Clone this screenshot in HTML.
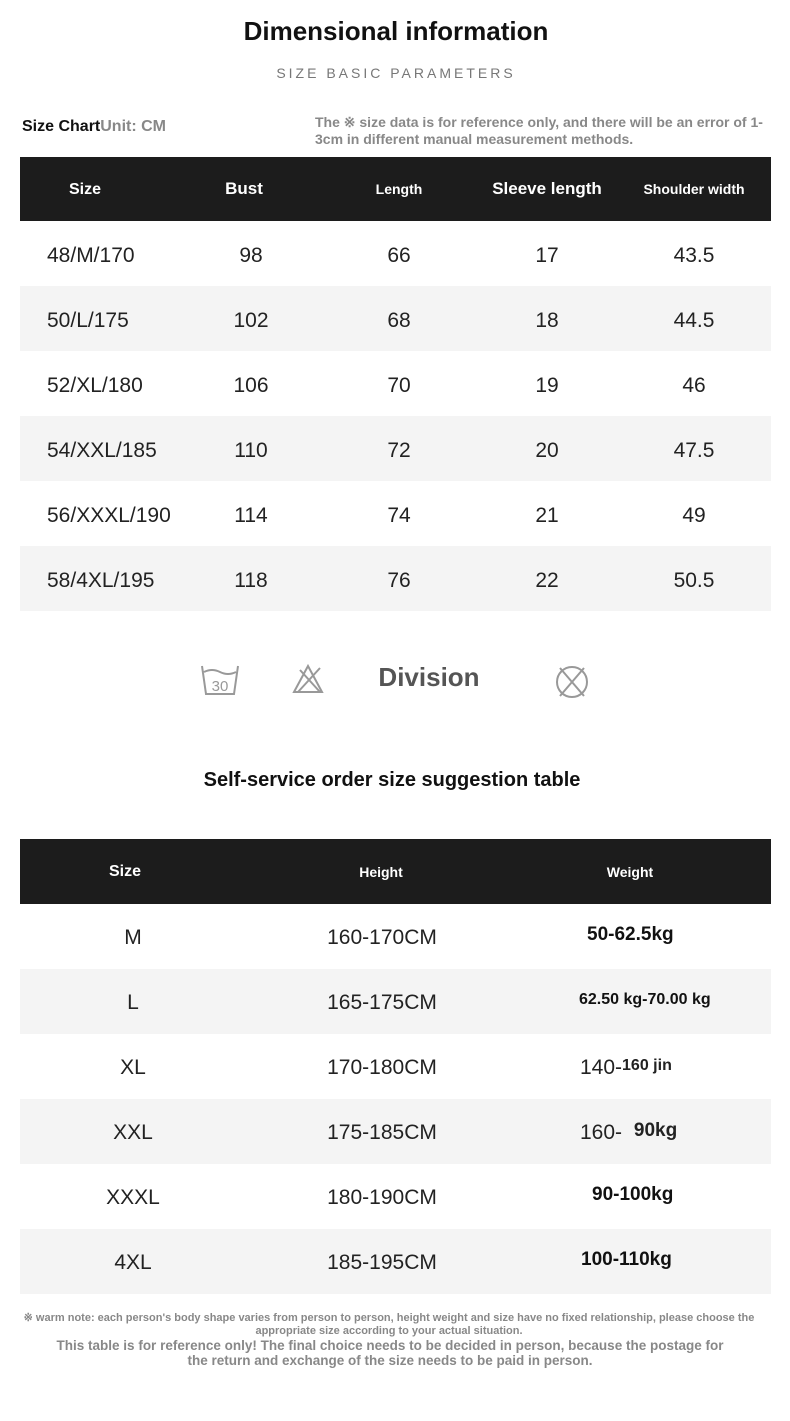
<!DOCTYPE html>
<html><head><meta charset="utf-8"><style>
body{margin:0;width:790px;height:1421px;background:#fff;position:relative;font-family:"Liberation Sans",sans-serif;overflow:hidden}
.a{position:absolute;white-space:nowrap}
.c{transform:translateX(-50%)}
.hd{position:absolute;left:20px;width:751px;background:#1c1c1c}
.g{position:absolute;left:20px;width:751px;height:65px;background:#f4f4f4}
.w{color:#fff;font-weight:bold}
.t{font-size:21px;color:#222}
.b{font-weight:bold;color:#111}
</style></head><body>
<div class="a c b" style="left:396px;top:16px;font-size:26px">Dimensional information</div>
<div class="a c" style="left:396px;top:65px;font-size:14px;letter-spacing:3px;color:#777">SIZE BASIC PARAMETERS</div>
<div class="a b" style="left:22px;top:118px;font-size:16px">Size Chart<span style="color:#888">Unit: CM</span></div>
<div class="a" style="left:315px;top:114px;font-size:14px;font-weight:bold;color:#888;line-height:17px">The ※ size data is for reference only, and there will be an error of 1-<br>3cm in different manual measurement methods.</div>

<div class="hd" style="top:157px;height:64px"></div>
<div class="a c w" style="left:85px;top:181px;font-size:16px">Size</div>
<div class="a c w" style="left:244px;top:179px;font-size:17px">Bust</div>
<div class="a c w" style="left:399px;top:181px;font-size:14px">Length</div>
<div class="a c w" style="left:547px;top:179px;font-size:17px">Sleeve length</div>
<div class="a c w" style="left:694px;top:181px;font-size:14px">Shoulder width</div>

<div class="g" style="top:286px"></div><div class="g" style="top:416px"></div><div class="g" style="top:546px"></div>

<div class="a t" style="left:47px;top:244px">48/M/170</div><div class="a c t" style="left:251px;top:244px">98</div><div class="a c t" style="left:399px;top:244px">66</div><div class="a c t" style="left:547px;top:244px">17</div><div class="a c t" style="left:694px;top:244px">43.5</div>
<div class="a t" style="left:47px;top:309px">50/L/175</div><div class="a c t" style="left:251px;top:309px">102</div><div class="a c t" style="left:399px;top:309px">68</div><div class="a c t" style="left:547px;top:309px">18</div><div class="a c t" style="left:694px;top:309px">44.5</div>
<div class="a t" style="left:47px;top:374px">52/XL/180</div><div class="a c t" style="left:251px;top:374px">106</div><div class="a c t" style="left:399px;top:374px">70</div><div class="a c t" style="left:547px;top:374px">19</div><div class="a c t" style="left:694px;top:374px">46</div>
<div class="a t" style="left:47px;top:439px">54/XXL/185</div><div class="a c t" style="left:251px;top:439px">110</div><div class="a c t" style="left:399px;top:439px">72</div><div class="a c t" style="left:547px;top:439px">20</div><div class="a c t" style="left:694px;top:439px">47.5</div>
<div class="a t" style="left:47px;top:504px">56/XXXL/190</div><div class="a c t" style="left:251px;top:504px">114</div><div class="a c t" style="left:399px;top:504px">74</div><div class="a c t" style="left:547px;top:504px">21</div><div class="a c t" style="left:694px;top:504px">49</div>
<div class="a t" style="left:47px;top:569px">58/4XL/195</div><div class="a c t" style="left:251px;top:569px">118</div><div class="a c t" style="left:399px;top:569px">76</div><div class="a c t" style="left:547px;top:569px">22</div><div class="a c t" style="left:694px;top:569px">50.5</div>

<svg class="a" style="left:198px;top:660px" width="400" height="45" fill="none" stroke="#999" stroke-width="2">
<path d="M4 6 L8 34 L36 34 L40 6 M6 12 Q14 8 22 12 Q30 16 38 12"/>
<text x="22" y="31" text-anchor="middle" font-size="15" fill="#999" stroke="none" font-family="Liberation Sans">30</text>
<path d="M96 32 L110 6 L124 32 Z M100 32 L122 8 M102 10 L122 32"/>
<circle cx="374" cy="22" r="15"/><path d="M362 8 L386 36 M386 8 L362 36"/>
</svg>
<div class="a c" style="left:429px;top:662px;font-size:26px;font-weight:bold;color:#555">Division</div>

<div class="a c b" style="left:392px;top:769px;font-size:20px">Self-service order size suggestion table</div>

<div class="hd" style="top:839px;height:65px"></div>
<div class="a c w" style="left:125px;top:863px;font-size:16px">Size</div>
<div class="a c w" style="left:381px;top:864px;font-size:14px">Height</div>
<div class="a c w" style="left:630px;top:864px;font-size:14px">Weight</div>

<div class="g" style="top:969px"></div><div class="g" style="top:1099px"></div><div class="g" style="top:1229px"></div>

<div class="a c t" style="left:133px;top:926px">M</div><div class="a c t" style="left:382px;top:926px">160-170CM</div><div class="a b" style="left:587px;top:924px;font-size:19px">50-62.5kg</div>
<div class="a c t" style="left:133px;top:991px">L</div><div class="a c t" style="left:382px;top:991px">165-175CM</div><div class="a b" style="left:579px;top:991px;font-size:16px">62.50 kg-70.00 kg</div>
<div class="a c t" style="left:133px;top:1056px">XL</div><div class="a c t" style="left:382px;top:1056px">170-180CM</div><div class="a" style="left:580px;top:1056px;font-size:21px;color:#222">140-<b style="font-size:16px;position:relative;top:-4px">160 jin</b></div>
<div class="a c t" style="left:133px;top:1121px">XXL</div><div class="a c t" style="left:382px;top:1121px">175-185CM</div><div class="a" style="left:580px;top:1121px;font-size:21px;color:#222">160- <b style="font-size:19px;position:relative;top:-3px;margin-left:6px">90kg</b></div>
<div class="a c t" style="left:133px;top:1186px">XXXL</div><div class="a c t" style="left:382px;top:1186px">180-190CM</div><div class="a b" style="left:592px;top:1184px;font-size:19px">90-100kg</div>
<div class="a c t" style="left:133px;top:1251px">4XL</div><div class="a c t" style="left:382px;top:1251px">185-195CM</div><div class="a b" style="left:581px;top:1249px;font-size:19px">100-110kg</div>

<div class="a c" style="left:389px;top:1312px;font-size:11px;font-weight:bold;color:#888;text-align:center;line-height:13px">※ warm note: each person's body shape varies from person to person, height weight and size have no fixed relationship, please choose the<br>appropriate size according to your actual situation.</div>
<div class="a c" style="left:390px;top:1338px;font-size:13.5px;font-weight:bold;color:#888;text-align:center;line-height:15px">This table is for reference only! The final choice needs to be decided in person, because the postage for<br>the return and exchange of the size needs to be paid in person.</div>
</body></html>
